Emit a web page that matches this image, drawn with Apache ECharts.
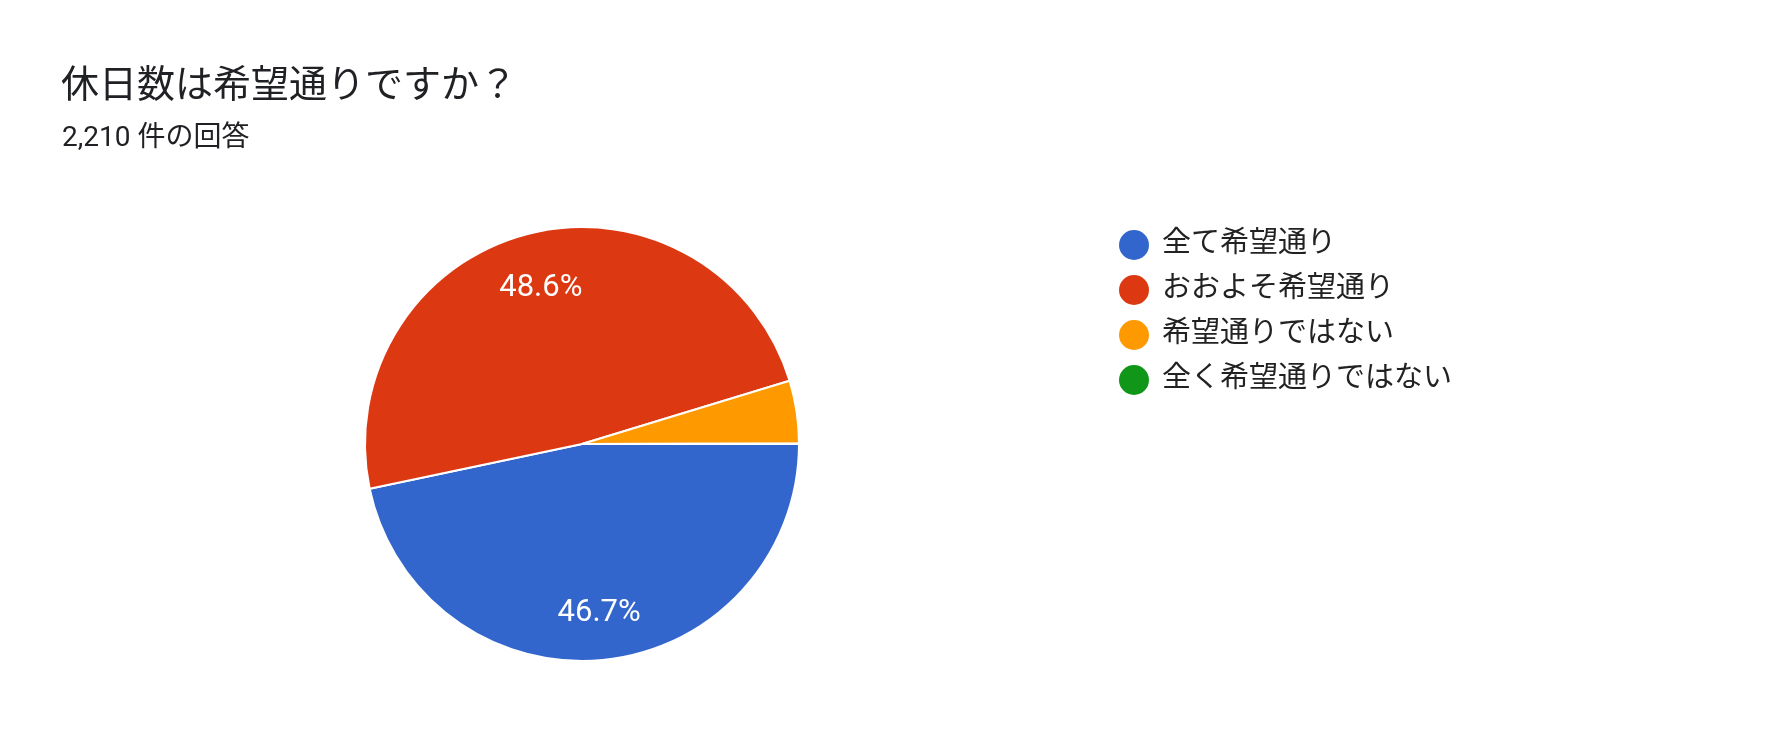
<!DOCTYPE html>
<html>
<head>
<meta charset="utf-8">
<style>
  html, body { margin: 0; padding: 0; background: #fff; }
  #main { width: 1769px; height: 744px; }
</style>
<script src="https://cdn.jsdelivr.net/npm/echarts@6/dist/echarts.min.js"></script>
</head>
<body>
<div id="main"></div>
<script>
  // 回答データ
  var titleText = '休日数は希望通りですか？';
  var subText = '2,210 件の回答';
  var categories = ['全て希望通り', 'おおよそ希望通り', '希望通りではない', '全く希望通りではない'];
  var counts = [1032, 1074, 103, 1];
  var colors = ['#3366cc', '#dc3912', '#ff9900', '#109618'];

  var font = 'Roboto, "Noto Sans CJK JP", sans-serif';

  var pieData = [];
  for (var i = 0; i < categories.length; i++) {
    pieData.push({ name: categories[i], value: counts[i], itemStyle: { color: colors[i] } });
  }

  var myChart = echarts.init(document.getElementById('main'));
  var option = {
    backgroundColor: '#fff',
    animation: false,
    textStyle: { fontFamily: font },
    title: [{
      text: titleText,
      left: 56,
      top: 63,
      textStyle: { fontSize: 38, fontWeight: 'normal', color: '#202124', fontFamily: font }
    }, {
      text: subText,
      left: 57,
      top: 120,
      textStyle: { fontSize: 28, fontWeight: 'normal', color: '#202124', fontFamily: font }
    }],
    legend: {
      orient: 'vertical',
      left: 1114,
      top: 225,
      icon: 'circle',
      itemWidth: 30,
      itemHeight: 30,
      itemGap: 15,
      data: categories,
      itemStyle: { borderWidth: 0 },
      textStyle: { fontSize: 29, color: '#222', padding: [0, 0, 0, 8], fontFamily: font }
    },
    series: [{
      name: 'main',
      type: 'pie',
      center: [582, 444],
      radius: 217,
      startAngle: 0,
      clockwise: true,
      percentPrecision: 1,
      label: { show: false },
      labelLine: { show: false },
      itemStyle: { borderColor: '#fff', borderWidth: 2 },
      emphasis: { disabled: true },
      data: pieData
    }, {
      // 透明なリングでラベルを半径の3/4に置く
      name: 'labels',
      type: 'pie',
      center: [582, 444],
      radius: [108, 217],
      startAngle: 0,
      clockwise: true,
      silent: true,
      percentPrecision: 1,
      itemStyle: { color: 'rgba(0,0,0,0)' },
      label: {
        show: true,
        position: 'inside',
        color: '#fff',
        fontSize: 31,
        fontFamily: font,
        offset: [0, 5],
        formatter: function (p) { return p.percent >= 5 ? p.percent + '%' : ''; }
      },
      labelLine: { show: false },
      data: categories.map(function (c, i) { return { name: c, value: counts[i] }; })
    }]
  };
  myChart.setOption(option);
</script>
</body>
</html>
